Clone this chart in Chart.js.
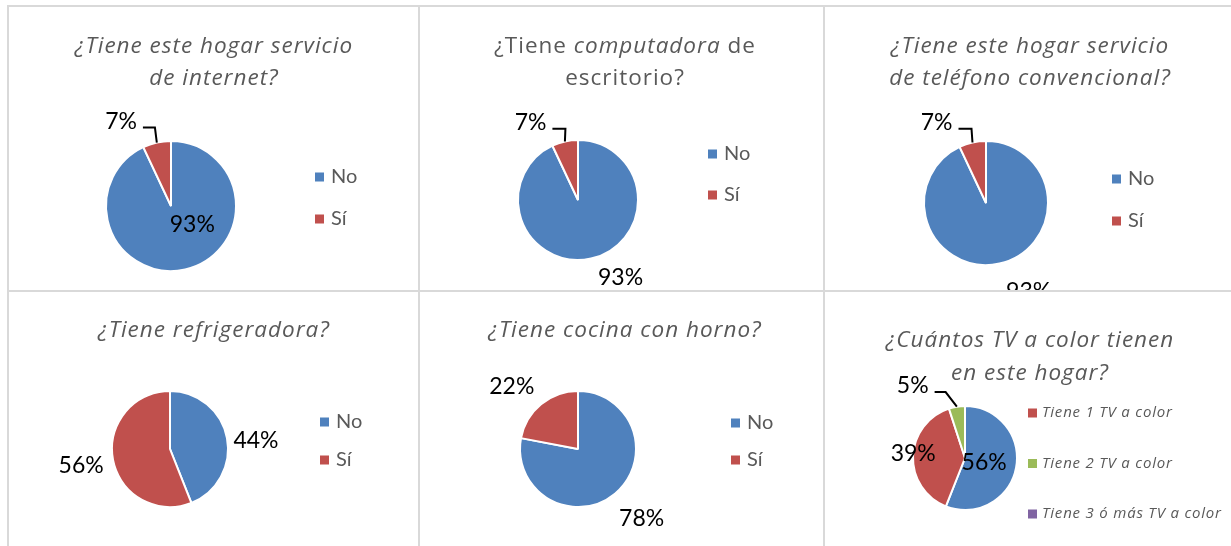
<!DOCTYPE html>
<html lang="es">
<head>
<meta charset="utf-8">
<script src="https://cdn.jsdelivr.net/npm/chart.js@4.4.0/dist/chart.umd.min.js"></script>
<style>
  html, body { margin: 0; padding: 0; background: #fff; width: 1231px; height: 546px; overflow: hidden; position: relative; }
  .celda { position: absolute; border: 2px solid #d9d9d9; box-sizing: border-box; }
  .celda canvas { display: block; }
</style>
</head>
<body>
<div class="celda" style="left:7px;top:5px;width:413px;height:287px"><canvas id="g1" width="409" height="283"></canvas></div>
<div class="celda" style="left:418px;top:5px;width:407px;height:287px"><canvas id="g2" width="403" height="283"></canvas></div>
<div class="celda" style="left:823px;top:5px;width:420px;height:287px"><canvas id="g3" width="416" height="283"></canvas></div>
<div class="celda" style="left:7px;top:290px;width:413px;height:270px"><canvas id="g4" width="409" height="266"></canvas></div>
<div class="celda" style="left:418px;top:290px;width:407px;height:270px"><canvas id="g5" width="403" height="266"></canvas></div>
<div class="celda" style="left:823px;top:290px;width:420px;height:270px"><canvas id="g6" width="416" height="266"></canvas></div>

<script>
// datos (porcentajes)
const categoriasSiNo = ['No', 'Sí'];
const internet = [93, 7];
const computadora = [93, 7];
const telefono = [93, 7];
const refrigeradora = [44, 56];
const cocina = [78, 22];
const categoriasTV = ['No tiene TV a color', 'Tiene 1 TV a color', 'Tiene 2 TV a color', 'Tiene 3 ó más TV a color'];
const televisores = [56, 39, 5, 0];

const colores = ['#4F81BD', '#C0504D', '#9BBB59', '#8064A2'];
const familia = 'Lato, "Open Sans", sans-serif';
const familiaTitulo = '"Open Sans", Lato, sans-serif';
const gris = '#595959';

// titulo con trozos normales / cursiva
function pluginTitulo(lineas, y, interlinea) {
    return {
        id: 'titulo',
        afterDraw(chart) {
            const ctx = chart.ctx;
            ctx.save();
            ctx.fillStyle = gris;
            ctx.textAlign = 'left';
            ctx.textBaseline = 'alphabetic';
            ctx.letterSpacing = '1px';
            lineas.forEach(function (linea, j) {
                let total = 0;
                const trozos = linea.map(function (t) {
                    const f = (t[1] ? 'italic ' : '') + '22.5px ' + familiaTitulo;
                    ctx.font = f;
                    const w = ctx.measureText(t[0]).width;
                    total += w;
                    return { texto: t[0], font: f, w: w };
                });
                let x = 205 - total / 2;
                trozos.forEach(function (z) {
                    ctx.font = z.font;
                    ctx.fillText(z.texto, x, y + j * interlinea);
                    x += z.w;
                });
            });
            ctx.restore();
        }
    };
}

// etiquetas de porcentaje sobre o fuera de cada sector
function pluginEtiquetas(giro, dist, guia) {
    return {
        id: 'etiquetas',
        afterDatasetsDraw(chart) {
            const ctx = chart.ctx;
            const valores = chart.data.datasets[0].data;
            const meta = chart.getDatasetMeta(0);
            ctx.save();
            ctx.font = '23px ' + familia;
            ctx.fillStyle = '#000';
            ctx.strokeStyle = '#000';
            ctx.lineWidth = 2;
            ctx.textAlign = 'center';
            ctx.textBaseline = 'middle';
            meta.data.forEach(function (arco, i) {
                if (!valores[i]) return;
                const p = arco.getProps(['x', 'y', 'startAngle', 'endAngle', 'outerRadius'], true);
                const medio = (p.startAngle + p.endAngle) / 2;
                const a = medio + giro[i] * Math.PI / 180;
                const d = dist[i] * p.outerRadius;
                const lx = p.x + Math.cos(a) * d;
                const ly = p.y + Math.sin(a) * d;
                const texto = valores[i] + '%';
                ctx.fillText(texto, lx, ly);
                if (guia && guia[i]) {
                    const w = ctx.measureText(texto).width;
                    const sx = lx + w / 2 + 6, sy = ly + 6;
                    ctx.beginPath();
                    ctx.moveTo(sx, sy);
                    ctx.lineTo(sx + guia[i], sy);
                    ctx.lineTo(p.x + Math.cos(medio) * p.outerRadius, p.y + Math.sin(medio) * p.outerRadius);
                    ctx.stroke();
                }
            });
            ctx.restore();
        }
    };
}

// leyenda a la derecha
function pluginLeyenda(x, y, paso, fuente, hueco, ocultar, espaciado) {
    return {
        id: 'leyenda',
        afterDraw(chart) {
            const ctx = chart.ctx;
            const etiquetas = chart.data.labels;
            const fondo = chart.data.datasets[0].backgroundColor;
            ctx.save();
            ctx.font = fuente;
            ctx.textAlign = 'left';
            ctx.textBaseline = 'middle';
            if (espaciado) ctx.letterSpacing = espaciado;
            let k = 0;
            etiquetas.forEach(function (et, i) {
                if (ocultar && ocultar.indexOf(i) >= 0) return;
                const yy = y + k * paso;
                ctx.fillStyle = fondo[i];
                ctx.fillRect(x, yy - 4.5, 9, 9);
                ctx.fillStyle = gris;
                ctx.fillText(et, x + 9 + hueco, yy);
                k++;
            });
            ctx.restore();
        }
    };
}

function tarta(id, etiquetas, valores, c, extras) {
    const cv = document.getElementById(id);
    const bw = 2;
    const mitad = c.r + bw / 2;
    return new Chart(cv, {
        type: 'pie',
        data: {
            labels: etiquetas,
            datasets: [{
                data: valores,
                backgroundColor: colores.slice(0, valores.length),
                borderColor: '#fff',
                borderWidth: bw
            }]
        },
        options: {
            responsive: false,
            animation: false,
            layout: {
                padding: {
                    left: c.cx - mitad,
                    right: cv.width - c.cx - mitad,
                    top: c.cy - mitad,
                    bottom: cv.height - c.cy - mitad
                }
            },
            plugins: {
                legend: { display: false },
                tooltip: { enabled: false }
            }
        },
        plugins: extras
    });
}

const leyendaNormal = '20px ' + familia;

tarta('g1', categoriasSiNo, internet, { cx: 162, cy: 199, r: 65 }, [
    pluginTitulo([[['¿Tiene este hogar servicio', true]], [['de internet?', true]]], 46, 32),
    pluginEtiquetas([-37, -18], [0.43, 1.51], [0, 12]),
    pluginLeyenda(306, 170, 42, leyendaNormal, 7)
]);

tarta('g2', categoriasSiNo, computadora, { cx: 158, cy: 193, r: 60 }, [
    pluginTitulo([[['¿Tiene ', false], ['computadora', true], [' de', false]], [['escritorio?', false]]], 46, 32),
    pluginEtiquetas([-16, -19], [1.48, 1.51], [0, 13]),
    pluginLeyenda(288, 147, 41, leyendaNormal, 7)
]);

tarta('g3', categoriasSiNo, telefono, { cx: 161, cy: 196, r: 62 }, [
    pluginTitulo([[['¿Tiene este hogar servicio', true]], [['de teléfono convencional?', true]]], 46, 32),
    pluginEtiquetas([-13, -19], [1.59, 1.52], [0, 13]),
    pluginLeyenda(287, 172, 42, leyendaNormal, 7)
]);

tarta('g4', categoriasSiNo, refrigeradora, { cx: 161, cy: 157, r: 58 }, [
    pluginTitulo([[['¿Tiene refrigeradora?', true]]], 45, 32),
    pluginEtiquetas([5, 0], [1.49, 1.56]),
    pluginLeyenda(311, 130, 38, leyendaNormal, 7)
]);

tarta('g5', categoriasSiNo, cocina, { cx: 158, cy: 157, r: 58 }, [
    pluginTitulo([[['¿Tiene cocina con horno?', true]]], 45, 32),
    pluginEtiquetas([-3, -7], [1.62, 1.57]),
    pluginLeyenda(311, 131, 37, leyendaNormal, 7)
]);

tarta('g6', categoriasTV, televisores, { cx: 140, cy: 166, r: 52 }, [
    pluginTitulo([[['¿Cuántos TV a color tienen', true]], [['en este hogar?', true]]], 55, 33),
    pluginEtiquetas([4, 3, -27, 0], [0.38, 1.0, 1.71, 1], [0, 0, 11, 0]),
    pluginLeyenda(203, 121, 50.5, 'italic 15px ' + familiaTitulo, 5, [0], '0.8px')
]);
</script>
</body>
</html>
